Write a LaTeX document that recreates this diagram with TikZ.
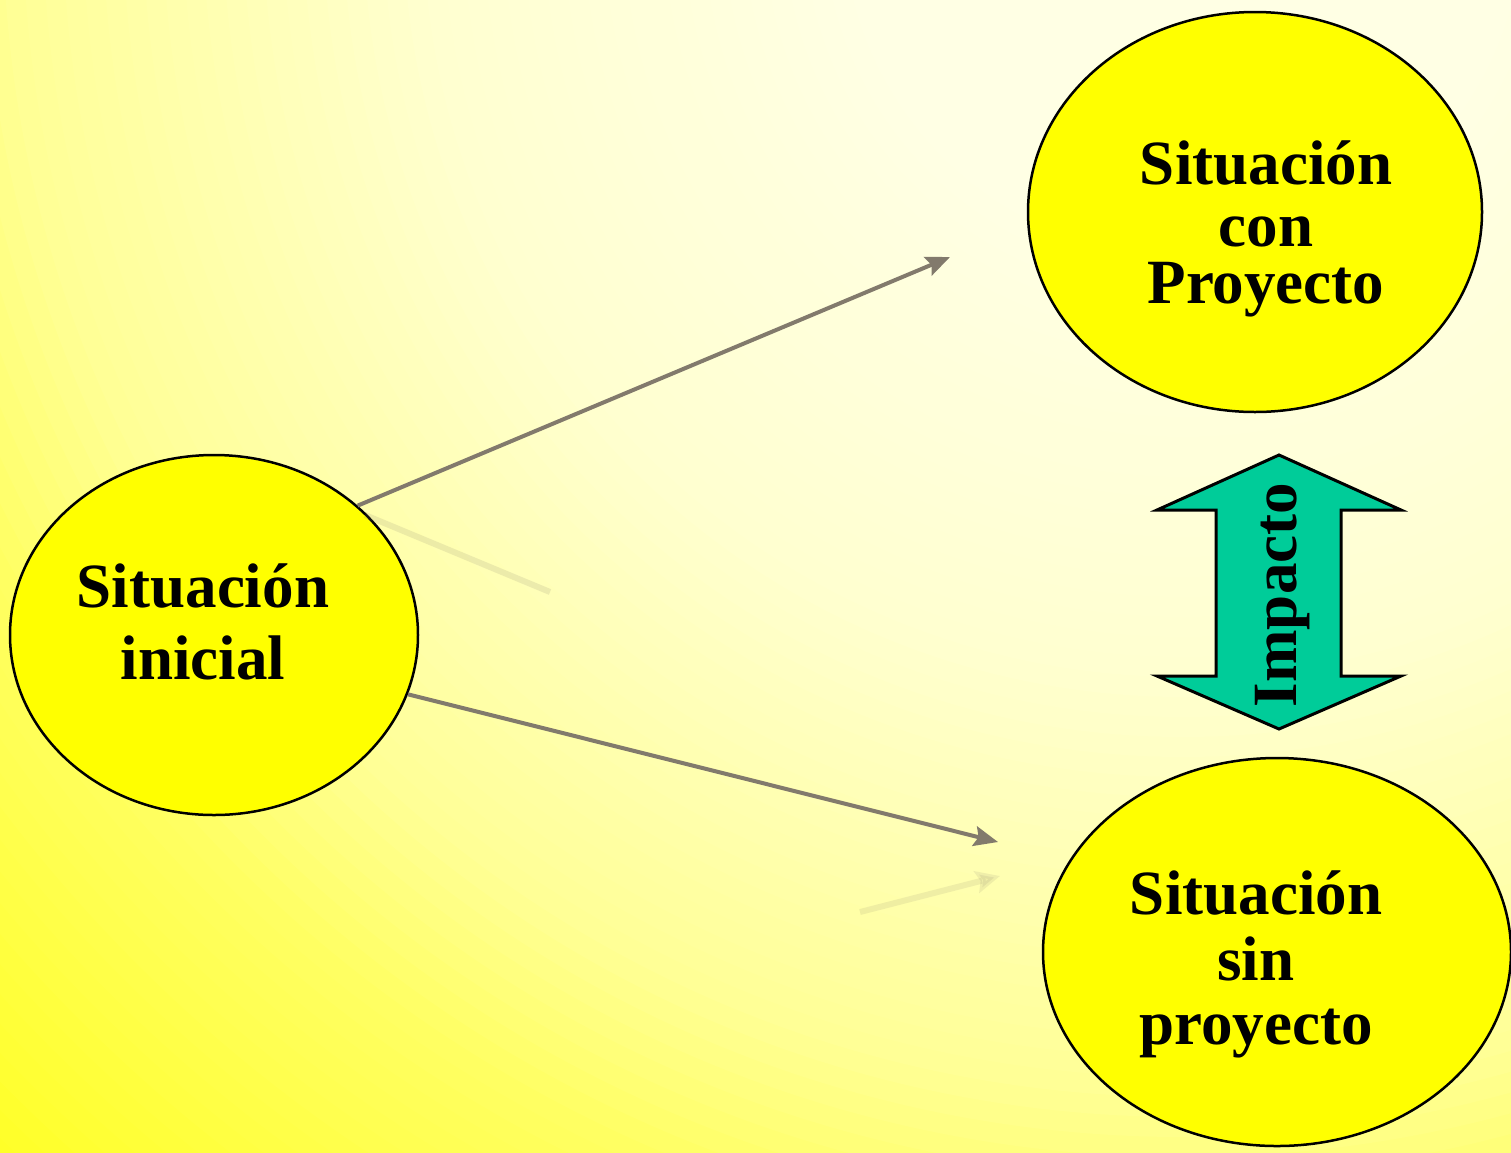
\documentclass[tikz,border=0pt]{standalone}
\usepackage{fontspec}
\setmainfont{Liberation Serif}
\usetikzlibrary{arrows.meta}
\usetikzlibrary{shapes.geometric}

\definecolor{amarillo}{RGB}{255,255,0}
\definecolor{gris}{RGB}{130,122,108}
\definecolor{verdeimp}{RGB}{0,204,153}

\begin{document}
\begin{tikzpicture}[x=1pt,y=-1pt,
  situ/.style={ellipse,draw=black,line width=2.5pt,fill=amarillo,inner sep=0pt},
  texto/.style={font=\fontsize{63}{62}\selectfont\bfseries,align=center,inner sep=0pt},
  flecha/.style={draw=gris,line width=4pt,-{Stealth[length=24pt,width=20pt,inset=4pt]}}]
  %background
  \useasboundingbox (0,0) rectangle (1511,1152);
  \clip (0,0) rectangle (1511,1152);
  \foreach \r in {1760,1740,...,20}{
    \pgfmathtruncatemacro{\b}{\r<350 ? 228 : (\r<770 ? 228-(\r-350)/420*20 : (\r<1186 ? 208-(\r-770)/416*58 : (\r<1350 ? 150-(\r-1186)/164*50 : 100-(\r-1350)/410*66)))}
    \fill[fill={rgb,255:red,255;green,255;blue,\b}] (1183,-83) circle (\r);
  }

  %ellipses
  \node[situ,minimum width=408pt,minimum height=360pt] (ini) at (214,635) {};
  \node[situ,minimum width=454pt,minimum height=400pt] (con) at (1255,212) {};
  \node[situ,minimum width=468pt,minimum height=388pt] (sin) at (1277,952) {};

  %arrows
  \coordinate (fincon) at (950,257);
  \coordinate (finsin) at (998,842);
  \draw[flecha] (ini.42) -- (fincon);
  \draw[flecha] (ini.-17) -- (finsin);

  %faint shadows
  \draw[gris,opacity=0.15,line width=6pt] (365,515) -- (550,592);
  \draw[gris,opacity=0.12,line width=6pt,-{Stealth[length=24pt,width=22pt,inset=4pt]}] (860,912) -- (1000,876);

  %impacto
  \draw[line width=3pt,fill=verdeimp] (1279,455) -- (1401,510) -- (1341,510) -- (1341,676)
    -- (1401,676) -- (1279,729) -- (1157,676) -- (1216,676) -- (1216,510) -- (1157,510) -- cycle;
  \node[texto,rotate=90] (imp) at (1283,595) {Impacto};

  %labels
  \node[texto] (tini) at (203,622) {Situación\\[10pt]inicial};
  \node[texto] (tcon) at (1266,229) {Situación\\con\\[-5pt]Proyecto};
  \node[texto] (tsin) at (1256,964) {Situación\\[4pt]sin\\[2pt]proyecto};
\end{tikzpicture}
\end{document}
